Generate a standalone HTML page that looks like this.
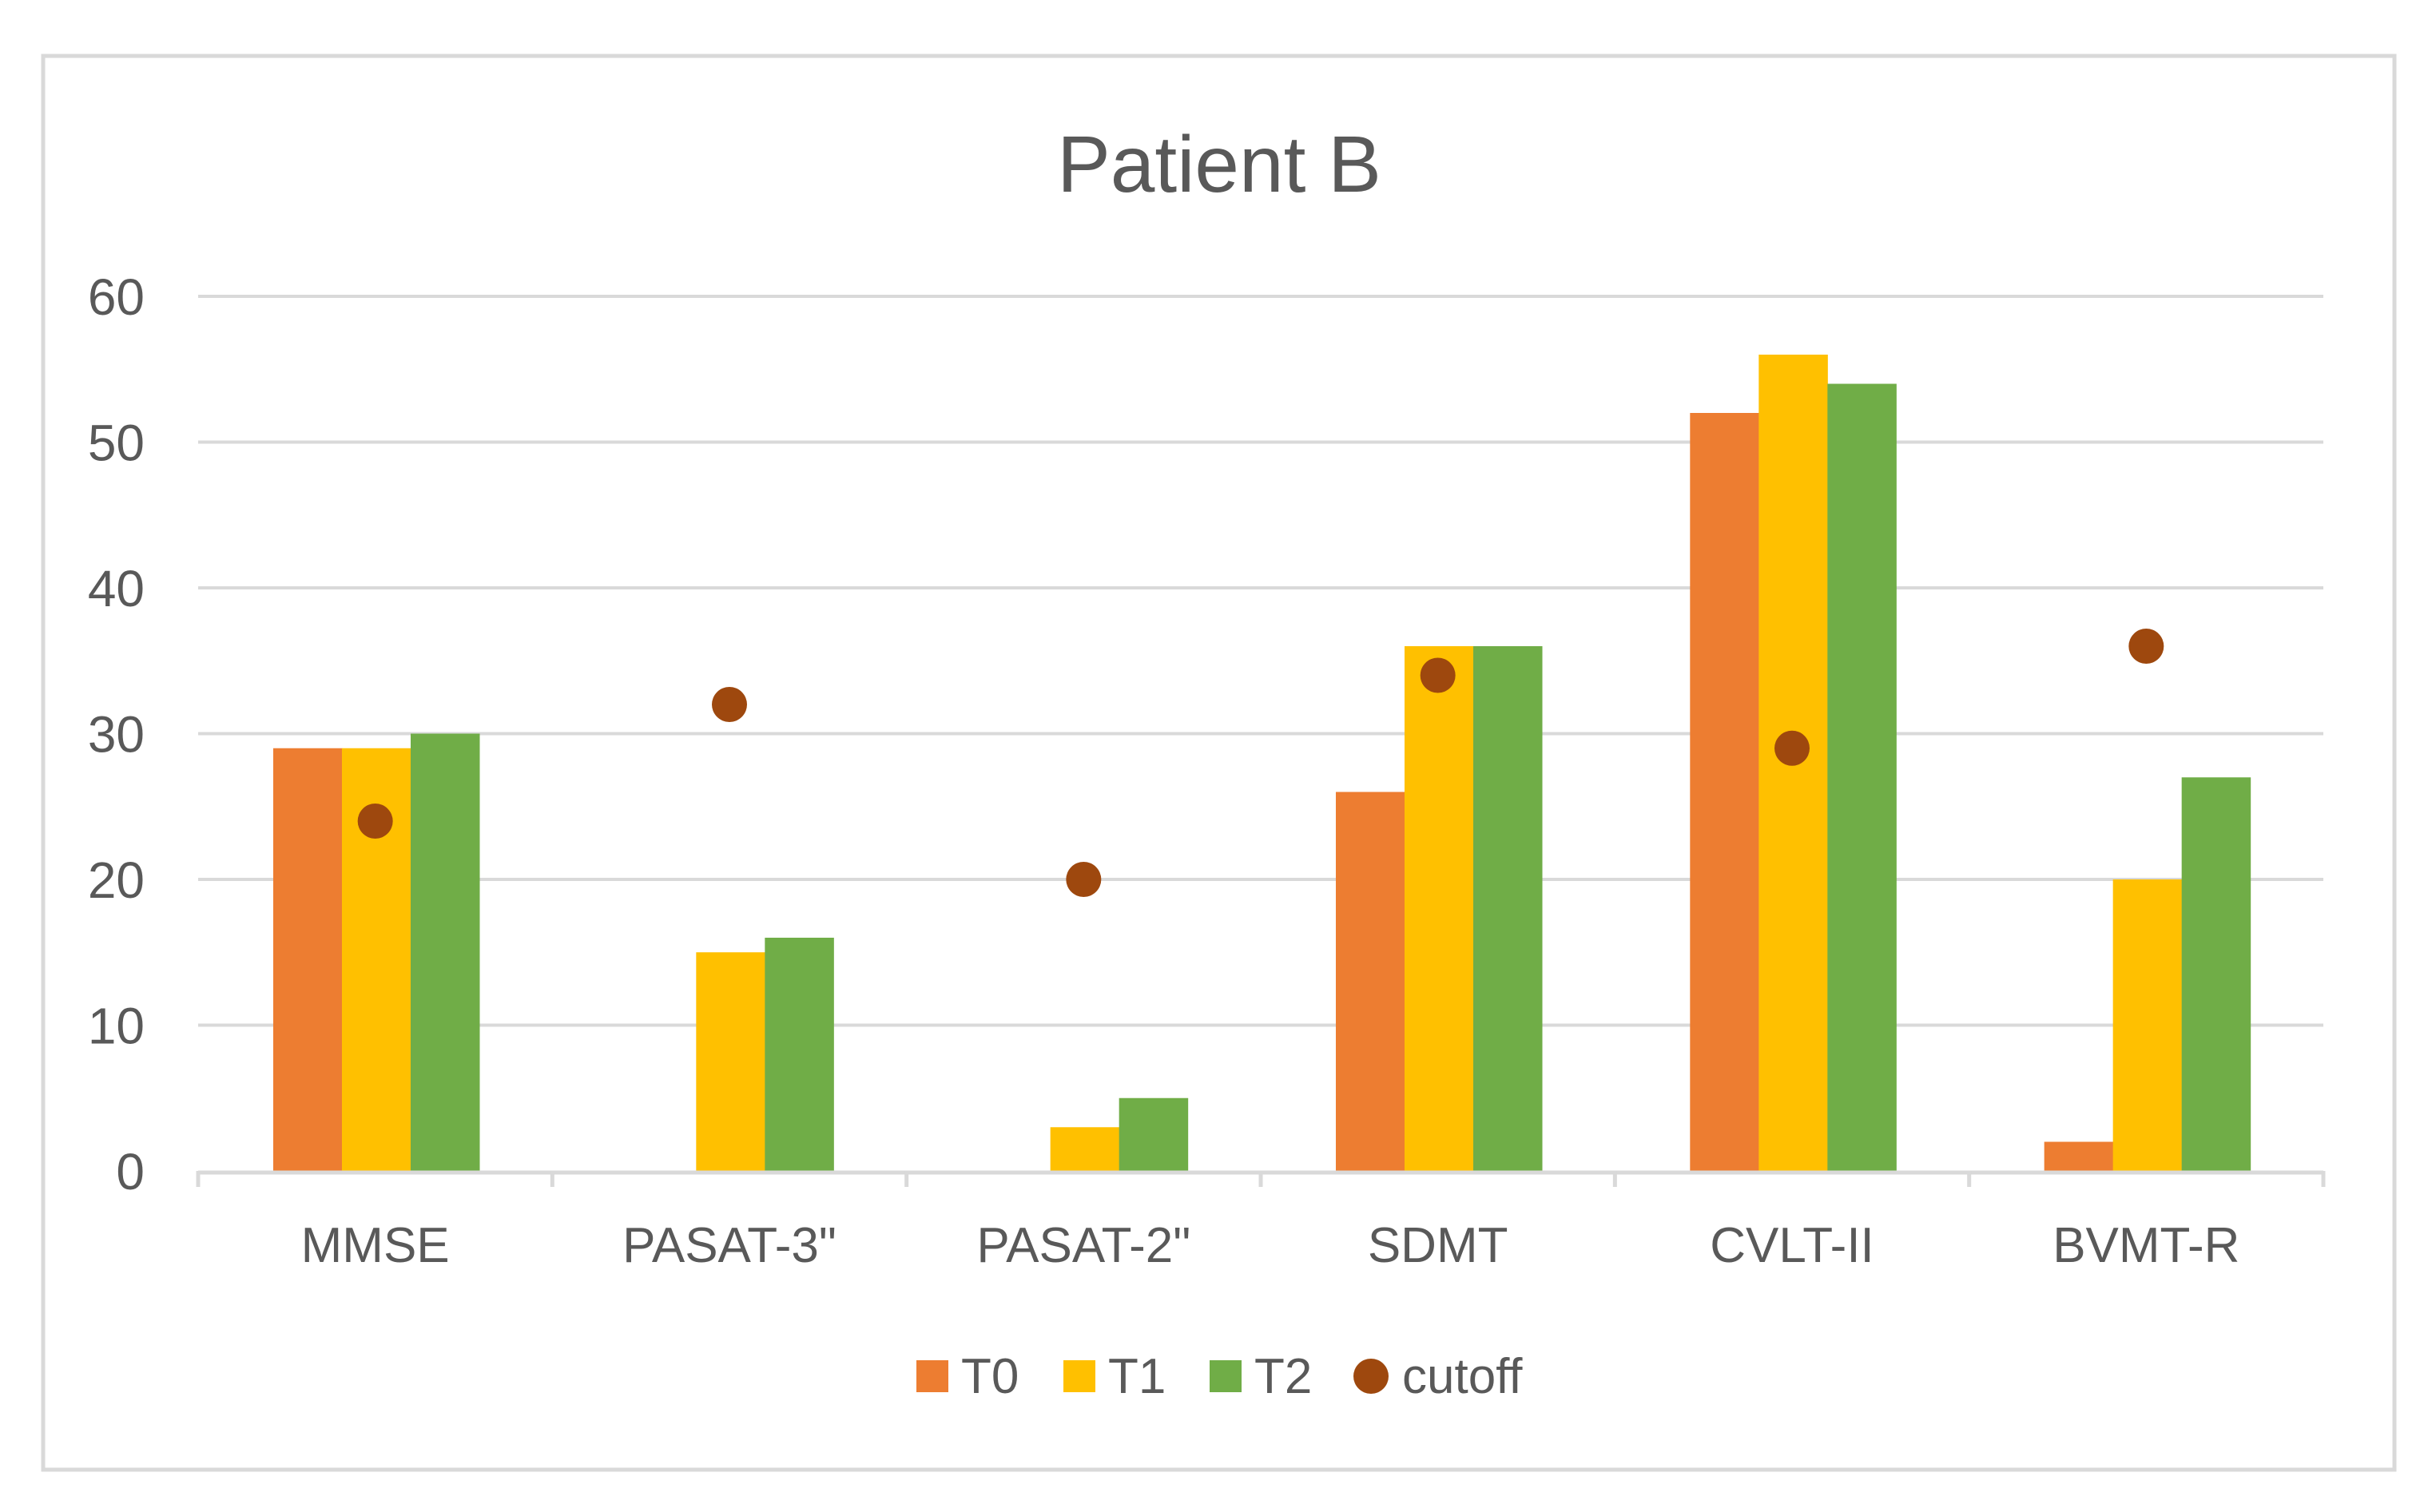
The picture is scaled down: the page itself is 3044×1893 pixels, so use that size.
<!DOCTYPE html>
<html><head><meta charset="utf-8"><style>
html,body{margin:0;padding:0;background:#fff;}
svg{display:block;font-family:"Liberation Sans",sans-serif;}
</style></head><body>
<svg id="chart" width="3044" height="1893" viewBox="0 0 3044 1893">
<rect x="54" y="70" width="2943" height="1770" fill="#fff" stroke="#d9d9d9" stroke-width="5"/>
<text x="1526" y="240" text-anchor="middle" font-size="100" fill="#595959">Patient B</text>
<g id="grid"></g><g id="bars"></g><g id="dots"></g><g id="axes"></g>
<g id="legend">
<rect x="1147" y="1703" width="40" height="40" fill="#ED7D31"/>
<text x="1203" y="1744" font-size="62" fill="#595959">T0</text>
<rect x="1331" y="1703" width="40" height="40" fill="#FFC000"/>
<text x="1387" y="1744" font-size="62" fill="#595959">T1</text>
<rect x="1514" y="1703" width="40" height="40" fill="#70AD47"/>
<text x="1570" y="1744" font-size="62" fill="#595959">T2</text>
<circle cx="1716" cy="1723" r="22" fill="#9E480E"/>
<text x="1755" y="1744" font-size="62" fill="#595959">cutoff</text>
</g>
</svg>
<script>
const categories = ["MMSE","PASAT-3\"","PASAT-2\"","SDMT","CVLT-II","BVMT-R"];
const t0 = [29,0,0,26,52,2];
const t1 = [29,15,3,36,56,20];
const t2 = [30,16,5,36,54,27];
const cutoff = [24,32,20,34,29,36];
const yTicks = [0,10,20,30,40,50,60];

const NS="http://www.w3.org/2000/svg";
const left=248,right=2908,y0=1466,y60=371;
const y=v=>y0-(v/60)*(y0-y60);
const cw=(right-left)/categories.length;
const bw=cw*0.194, off=cw*0.212;
function mk(tag,attrs,parent){const e=document.createElementNS(NS,tag);for(const k in attrs)e.setAttribute(k,attrs[k]);document.getElementById(parent).appendChild(e);return e;}
yTicks.forEach(t=>{
  if(t>0){const l=mk('line',{x1:left,x2:right,y1:y(t),y2:y(t),stroke:'#d9d9d9','stroke-width':4},'grid');
  
  }
  const tx=mk('text',{x:181,y:y(t)+23,'text-anchor':'end','font-size':64,fill:'#595959'},'axes');
  tx.textContent=t;
  
  
});
const ax=mk('line',{x1:left,x2:right,y1:y0+2,y2:y0+2,stroke:'#d9d9d9','stroke-width':5},'axes');


for(let i=0;i<=categories.length;i++){
  const tk=mk('line',{x1:left+i*cw,x2:left+i*cw,y1:y0,y2:y0+20,stroke:'#d9d9d9','stroke-width':5},'axes');
  
  
}
const series=[[t0,'#ED7D31','t0'],[t1,'#FFC000','t1'],[t2,'#70AD47','t2']];
categories.forEach((c,i)=>{
  const gx=left+i*cw;
  series.forEach((s,j)=>{
    const v=s[0][i];
    const r=mk('rect',{x:gx+off+j*bw,y:y(v),width:bw+0.5,height:y0-y(v),fill:s[1]},'bars');
    
    
  });
  const d=mk('circle',{cx:gx+cw/2,cy:y(cutoff[i]),r:22,fill:'#9E480E'},'dots');
  
  
  const lb=mk('text',{x:gx+cw/2,y:1580,'text-anchor':'middle','font-size':62,fill:'#595959'},'axes');
  lb.textContent=c;
  
  
});
</script>
</body></html>
